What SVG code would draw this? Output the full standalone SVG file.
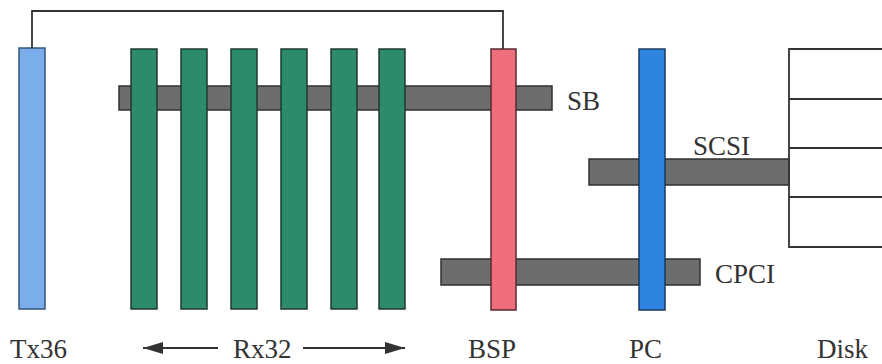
<svg xmlns="http://www.w3.org/2000/svg" width="882" height="364" viewBox="0 0 882 364">
<defs>
<style>
.bus{fill:#6c6d6e;stroke:#2f3030;stroke-width:1.5}
.rx{fill:#2b8b6c;stroke:#1f3a30;stroke-width:1.5}
.lbl{font-family:"Liberation Serif","Times New Roman",serif;font-size:27px;fill:#333}
.ln{fill:none;stroke:#333;stroke-width:1.8}
</style>
<marker id="ah" viewBox="0 0 20 12" refX="20" refY="6" markerWidth="20" markerHeight="12" markerUnits="userSpaceOnUse" orient="auto-start-reverse">
<path d="M0,0 L20,6 L0,12 z" fill="#333"/>
</marker>
</defs>
<rect width="882" height="364" fill="#fff"/>
<g id="buses">
<g id="SB"><rect class="bus" x="119" y="86" width="433" height="24"/><text class="lbl" x="567" y="110">SB</text></g>
<g id="SCSI"><rect class="bus" x="589" y="159" width="200" height="26"/><text class="lbl" x="693" y="155">SCSI</text></g>
<g id="CPCI"><rect class="bus" x="441" y="259" width="259" height="26"/><text class="lbl" x="715" y="283">CPCI</text></g>
</g>
<g id="Disk">
<path class="ln" d="M882,49 H789 V247 H882 M789,99 H882 M789,148 H882 M789,197 H882"/>
<text class="lbl" x="817" y="358">Disk</text>
</g>
<g id="Tx36"><rect x="19" y="48" width="26" height="261" fill="#79aeea" stroke="#35557a" stroke-width="1.5"/><text class="lbl" x="10" y="358">Tx36</text></g>
<g id="Rx32">
<rect class="rx" x="131" y="49" width="26" height="260"/>
<rect class="rx" x="181" y="49" width="26" height="260"/>
<rect class="rx" x="231" y="49" width="26" height="260"/>
<rect class="rx" x="281" y="49" width="26" height="260"/>
<rect class="rx" x="331" y="49" width="26" height="260"/>
<rect class="rx" x="379" y="49" width="26" height="260"/>
<text class="lbl" x="233" y="358">Rx32</text>
</g>
<g id="BSP"><rect x="491" y="49" width="25" height="261" fill="#ee6e7b" stroke="#5a2a30" stroke-width="1.5"/><text class="lbl" x="468" y="358">BSP</text></g>
<g id="PC"><rect x="639" y="49" width="26" height="261" fill="#2e84df" stroke="#1d3a60" stroke-width="1.5"/><text class="lbl" x="629" y="358">PC</text></g>
<g id="connectors">
<path class="ln" d="M32,48 V11 H503 V49"/>
<line class="ln" x1="218" y1="348" x2="143" y2="348" marker-end="url(#ah)"/>
<line class="ln" x1="303" y1="348" x2="405" y2="348" marker-end="url(#ah)"/>
</g>
</svg>
